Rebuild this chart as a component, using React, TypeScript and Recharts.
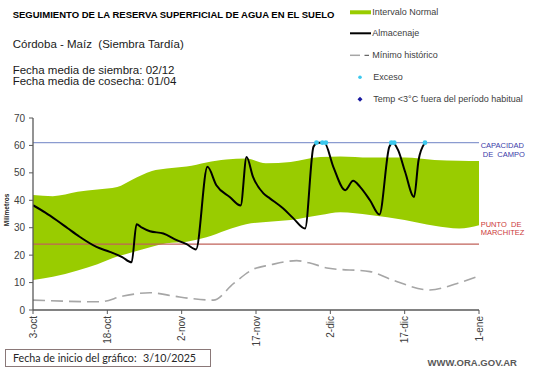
import React from 'react';
import { ComposedChart, Area, Line, Scatter, XAxis, YAxis, ReferenceLine } from 'recharts';

// ---- tick labels ----
const xTickDays = [0, 15, 30, 45, 60, 75, 90];
const xTickLabels = ['3-oct', '18-oct', '2-nov', '17-nov', '2-dic', '17-dic', '1-ene'];
const yTicks = [0, 10, 20, 30, 40, 50, 60, 70];

// ---- Intervalo Normal (band) ----
const bandDays = [0, 4, 9, 13, 17, 20, 24, 27, 31, 35, 39, 43, 47, 52, 58, 62, 68, 75, 81, 86, 90];
const bandLow = [10.9, 12.1, 14.4, 16.7, 19.5, 21.1, 23.1, 24.3, 24.9, 26.5, 29.1, 31.3, 32.1, 32.8, 34.6, 35.6, 34.6, 32.8, 30.7, 29.7, 30.9];
const bandHigh = [41.9, 41.5, 43.1, 43.9, 44.8, 47.5, 50.7, 51.6, 52.3, 53.8, 54.9, 55.2, 53.5, 54.0, 55.8, 56.0, 55.6, 55.6, 54.7, 54.4, 54.3];

// ---- Almacenaje ----
const almDays = [0, 2.5, 4.7, 7, 9.4, 12.8, 15.5, 18, 19.9, 20.9, 22, 23.6, 26.3, 29, 31, 32.9, 35.2, 37, 39.7, 41.9, 43.1, 44.4, 46.5, 47.8, 50.5, 52.5, 54.9, 56.6, 57.4, 58.8, 60.6, 63, 64.6, 66, 68, 69.9, 71.9, 72.6, 73.7, 75.1, 76.9, 77.8, 79];
const almValues = [38.2, 35.5, 32.8, 29.8, 26.7, 23.0, 21.2, 19.3, 17.4, 31.3, 30.0, 28.7, 27.9, 25.5, 24.0, 22.1, 52.2, 45.5, 41.2, 38.1, 55.8, 48.5, 42.5, 40.7, 37.0, 33.5, 29.7, 59.5, 61.0, 61.0, 52.2, 43.7, 47.1, 44.9, 40.0, 34.8, 59.5, 61.0, 58.2, 50.3, 41.2, 54.6, 60.7];

// ---- Mínimo histórico ----
const minDays = [0, 13.5, 18.2, 23.6, 28.3, 32.3, 36.4, 40.5, 44.4, 47.8, 53.2, 55.7, 59.7, 68, 72.6, 80.1, 85.6, 90];
const minValues = [3.6, 3.0, 5.1, 6.3, 5.1, 4.1, 3.6, 9.7, 14.8, 16.4, 18.0, 17.2, 15.2, 14.0, 10.9, 7.3, 9.7, 12.4];

// ---- Exceso ----
const excesoDays = [57.2, 58.4, 59.1, 72.3, 72.9, 79.1];
const excesoValues = [61, 61, 61, 61, 61, 61];

const capacidadCampo = 61;
const puntoMarchitez = 24;

const bandData = bandDays.map((d, i) => ({ day: d, range: [bandLow[i], bandHigh[i]] }));
const almData = almDays.map((d, i) => ({ day: d, v: almValues[i] }));
const minData = minDays.map((d, i) => ({ day: d, v: minValues[i] }));
const excesoData = excesoDays.map((d, i) => ({ day: d, v: excesoValues[i] }));

const FONT = '"Liberation Sans", Arial, sans-serif';
const AXIS = '#595959';

const XTick = (props: any) => {
  const { x, y, payload } = props;
  const idx = xTickDays.indexOf(payload.value);
  return (
    <text
      transform={`translate(${x + 3.6},${y}) rotate(-90)`}
      textAnchor="end"
      fontSize={10}
      fontFamily={FONT}
      fill="#404040"
    >
      {idx >= 0 ? xTickLabels[idx] : ''}
    </text>
  );
};

const ExcesoDot = (props: any) => {
  const { cx, cy } = props;
  return <circle cx={cx} cy={cy} r={2.4} fill="#3cc8ee" />;
};

const abs = (left: number, top: number, extra: React.CSSProperties = {}): React.CSSProperties => ({
  position: 'absolute',
  left,
  top,
  lineHeight: 1,
  whiteSpace: 'nowrap',
  ...extra,
});

export default function App() {
  return (
    <div style={{ position: 'absolute', left: 0, top: 0, width: 541, height: 368, background: '#fff', fontFamily: FONT, overflow: 'hidden' }}>
      <ComposedChart width={541} height={368} margin={{ top: 118, right: 62, bottom: 0, left: 0 }}>
        <XAxis
          type="number"
          dataKey="day"
          domain={[0, 90]}
          ticks={xTickDays}
          interval={0}
          height={58}
          tickSize={4}
          tick={<XTick />}
          axisLine={{ stroke: AXIS, strokeWidth: 1.3 }}
          tickLine={{ stroke: AXIS }}
          allowDataOverflow
        />
        <YAxis
          type="number"
          domain={[0, 70]}
          ticks={yTicks}
          interval={0}
          width={33}
          tickSize={4}
          tickMargin={4}
          tick={{ fontSize: 10, fill: '#404040', fontFamily: FONT }}
          axisLine={{ stroke: AXIS, strokeWidth: 1.3 }}
          tickLine={{ stroke: AXIS }}
          allowDataOverflow
        />
        <Area
          data={bandData}
          dataKey="range"
          type="monotone"
          fill="#99cc00"
          fillOpacity={1}
          stroke="none"
          isAnimationActive={false}
          dot={false}
          activeDot={false}
        />
        <ReferenceLine y={capacidadCampo} stroke="#8b9bd0" strokeWidth={1.2} />
        <ReferenceLine y={puntoMarchitez} stroke="#c0625a" strokeWidth={1.2} />
        <Line
          data={minData}
          dataKey="v"
          type="monotone"
          stroke="#a6a6a6"
          strokeWidth={1.6}
          strokeDasharray="12 6"
          dot={false}
          activeDot={false}
          isAnimationActive={false}
        />
        <Line
          data={almData}
          dataKey="v"
          type="monotone"
          stroke="#000"
          strokeWidth={2}
          dot={false}
          activeDot={false}
          isAnimationActive={false}
        />
        <Scatter data={excesoData} dataKey="v" shape={<ExcesoDot />} isAnimationActive={false} />
      </ComposedChart>

      {/* Y axis title */}
      <div style={abs(7.3, 210, { transform: 'translate(-50%,-50%) rotate(-90deg)', fontSize: 6.5, fontWeight: 'bold', color: '#262626' })}>Milímetros</div>

      {/* Titles */}
      <div style={abs(12.7, 10.4, { fontSize: 9.5, fontWeight: 'bold', color: '#000' })}>
        SEGUIMIENTO DE LA RESERVA SUPERFICIAL DE AGUA EN EL SUELO
      </div>
      <div style={abs(12.7, 38.6, { fontSize: 11.5, color: '#1a1a1a' })}>Córdoba - Maíz&nbsp; (Siembra Tardía)</div>
      <div style={abs(12.7, 64.7, { fontSize: 11.5, color: '#1a1a1a' })}>Fecha media de siembra: 02/12</div>
      <div style={abs(12.7, 76.1, { fontSize: 11.5, color: '#1a1a1a' })}>Fecha media de cosecha: 01/04</div>

      {/* Legend */}
      <svg style={{ position: 'absolute', left: 0, top: 0 }} width={541} height={110}>
        <rect x={350} y={10.3} width={21} height={4} fill="#99cc00" />
        <line x1={350} x2={371} y1={33.3} y2={33.3} stroke="#000" strokeWidth={2} />
        <line x1={350} x2={360} y1={55.3} y2={55.3} stroke="#a6a6a6" strokeWidth={1.5} />
        <line x1={364.5} x2={369} y1={55.3} y2={55.3} stroke="#404040" strokeWidth={1} />
        <circle cx={360} cy={77.3} r={1.8} fill="#3cc8ee" />
        <polygon points="360,96.8 362.5,99.3 360,101.8 357.5,99.3" fill="#1a1aa0" />
      </svg>
      <div style={abs(372.3, 8, { fontSize: 9, color: '#404040' })}>Intervalo Normal</div>
      <div style={abs(372.3, 29, { fontSize: 9, color: '#404040' })}>Almacenaje</div>
      <div style={abs(372.3, 51, { fontSize: 9, color: '#404040' })}>Mínimo histórico</div>
      <div style={abs(373.3, 73, { fontSize: 9, color: '#404040' })}>Exceso</div>
      <div style={abs(373.3, 95, { fontSize: 9, color: '#404040' })}>Temp &lt;3°C fuera del período habitual</div>

      {/* Right reference labels */}
      <div style={abs(480.7, 141.3, { fontSize: 7.5, color: '#3a3aa8', lineHeight: '9px' })}>
        CAPACIDAD<br />&nbsp;DE&nbsp; CAMPO
      </div>
      <div style={abs(480.7, 220.5, { fontSize: 7.5, color: '#cc3a3a', lineHeight: '8.5px' })}>
        PUNTO&nbsp; DE<br />MARCHITEZ
      </div>

      {/* Bottom */}
      <div
        style={{
          position: 'absolute',
          left: 5,
          top: 349,
          width: 206,
          height: 18,
          border: '1px solid #8a7878',
          boxSizing: 'border-box',
        }}
      />
      <div style={abs(13, 352.5, { fontSize: 10.7, fontFamily: 'Lato, "Open Sans", sans-serif', color: '#262626' })}>
        Fecha de inicio del gráfico:
      </div>
      <div style={abs(143, 352.5, { fontSize: 10.7, fontFamily: 'Lato, "Open Sans", sans-serif', color: '#262626' })}>3/10/2025</div>
      <div style={abs(427.6, 357.5, { fontSize: 9.5, fontWeight: 'bold', color: '#595959' })}>WWW.ORA.GOV.AR</div>
    </div>
  );
}
